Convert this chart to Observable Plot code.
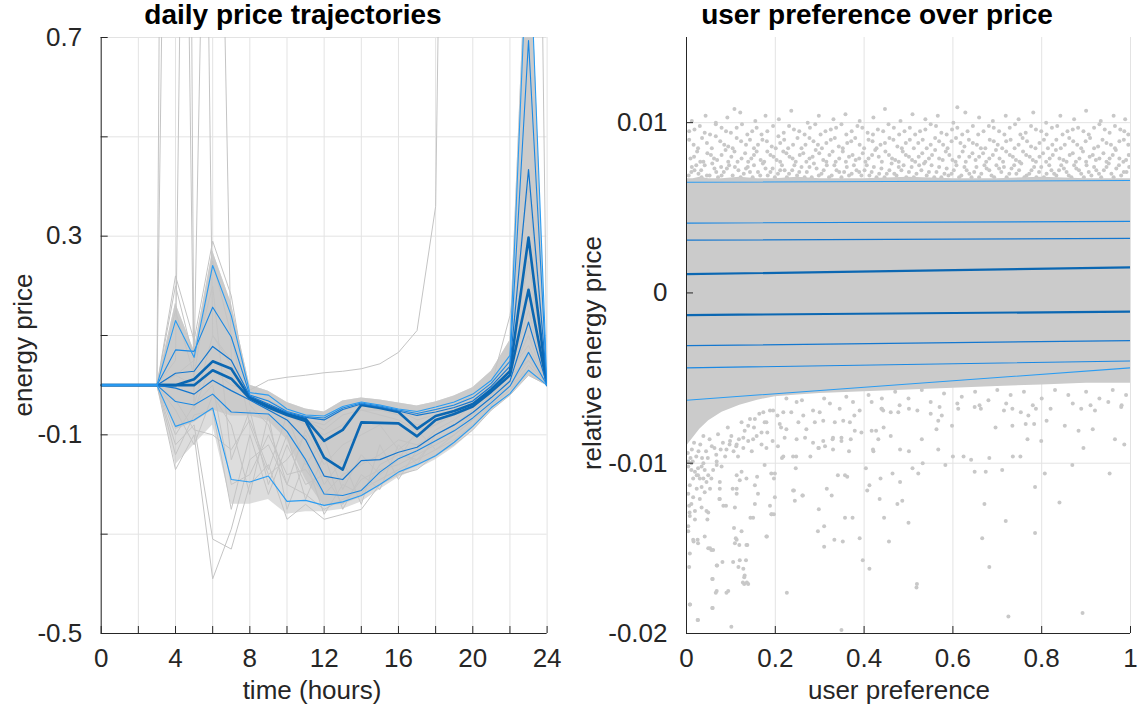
<!DOCTYPE html>
<html><head><meta charset="utf-8">
<script src="https://cdn.jsdelivr.net/npm/d3@7"></script>
<script src="https://cdn.jsdelivr.net/npm/@observablehq/plot@0.6"></script>
<style>
body{margin:0;background:#fff;font-family:"Liberation Sans",Arial,Helvetica,sans-serif;}
#wrap{position:relative;width:1141px;height:711px;overflow:hidden;}
.panel{position:absolute;top:0;}
.title{position:absolute;font-weight:bold;font-size:28px;line-height:28px;color:#000;white-space:nowrap;transform:translateX(-50%);}
.xl{position:absolute;font-size:26px;line-height:26px;color:#262626;white-space:nowrap;transform:translateX(-50%);}
.yl{position:absolute;font-size:26px;line-height:26px;color:#262626;white-space:nowrap;transform:translate(-50%,-50%) rotate(-90deg);}
</style></head><body>
<div id="wrap">
  <div id="left" class="panel" style="left:0"></div>
  <div id="right" class="panel" style="left:570px"></div>
  <div class="title" style="left:293px;top:1px">daily price trajectories</div>
  <div class="title" style="left:877px;top:1px">user preference over price</div>
  <div class="xl" style="left:312px;top:677px">time (hours)</div>
  <div class="xl" style="left:899px;top:677px">user preference</div>
  <div class="yl" style="left:23px;top:345px">energy price</div>
  <div class="yl" style="left:592px;top:353px">relative energy price</div>
</div>
<script>
// ---------------- LEFT PANEL DATA ----------------
const hours = [0,1,2,3,4,5,6,7,8,9,10,11,12,13,14,15,16,17,18,19,20,21,22,23,24];
const q1 = [0,0,0,0,0.130,0.056,0.241,0.140,-0.015,-0.020,-0.048,-0.060,-0.062,-0.043,-0.034,-0.040,-0.048,-0.053,-0.044,-0.034,-0.018,0.010,0.060,0.950,0];
const q2 = [0,0,0,0,0.071,0.068,0.157,0.097,-0.020,-0.032,-0.053,-0.063,-0.066,-0.046,-0.036,-0.042,-0.050,-0.057,-0.049,-0.040,-0.025,0.004,0.048,0.694,0];
const q3 = [0,0,0,0,0.024,0.028,0.078,0.050,-0.022,-0.038,-0.055,-0.065,-0.070,-0.049,-0.038,-0.044,-0.052,-0.061,-0.054,-0.045,-0.032,-0.002,0.038,0.434,0];
const q4 = [0,0,0,0,0,0.012,0.048,0.033,-0.025,-0.042,-0.058,-0.068,-0.112,-0.090,-0.040,-0.046,-0.054,-0.088,-0.062,-0.052,-0.038,-0.008,0.028,0.297,0];
const q5 = [0,0,0,0,0,0,0.030,0.013,-0.027,-0.045,-0.060,-0.072,-0.146,-0.170,-0.075,-0.076,-0.077,-0.103,-0.070,-0.058,-0.043,-0.013,0.020,0.192,0];
const q6 = [0,0,0,0,-0.006,-0.018,0.010,-0.011,-0.030,-0.050,-0.070,-0.110,-0.183,-0.190,-0.152,-0.150,-0.135,-0.125,-0.100,-0.080,-0.055,-0.025,0.008,0.127,0];
const q7 = [0,0,0,0,-0.033,-0.040,-0.018,-0.054,-0.056,-0.058,-0.093,-0.150,-0.219,-0.222,-0.212,-0.175,-0.148,-0.132,-0.112,-0.092,-0.066,-0.035,-0.002,0.066,0];
const q8 = [0,0,0,0,-0.083,-0.070,-0.046,-0.190,-0.195,-0.183,-0.234,-0.232,-0.242,-0.235,-0.222,-0.200,-0.175,-0.160,-0.142,-0.115,-0.083,-0.045,-0.017,0.030,0];
const envHigh = [0,0,0,0,0.165,0.070,0.270,0.165,0.000,-0.012,-0.035,-0.048,-0.054,-0.032,-0.026,-0.030,-0.036,-0.042,-0.034,-0.022,-0.005,0.028,0.090,1.000,0];
const envLow  = [0,0,0,0,-0.090,-0.075,-0.050,-0.062,-0.062,-0.072,-0.110,-0.190,-0.245,-0.240,-0.226,-0.204,-0.180,-0.164,-0.146,-0.120,-0.088,-0.050,-0.020,0.020,0];
const meshLow = [0,0,0,0,-0.160,-0.120,-0.080,-0.240,-0.240,-0.230,-0.260,-0.255,-0.255,-0.250,-0.235,-0.210,-0.186,-0.170,-0.150,-0.125,-0.093,-0.053,-0.022,0.018,0];
const g1  = [0,0,0,0,6.0,-0.05,0.05,0.02,-0.03,-0.05,-0.06,-0.07,-0.09,-0.06,-0.05,-0.05,-0.06,-0.08,-0.07,-0.06,-0.04,-0.01,0.03,0.15,0];
const g2  = [0,0,0,0,2.8,-0.04,0.10,0.05,-0.03,-0.04,-0.06,-0.08,-0.10,-0.08,-0.05,-0.06,-0.07,-0.09,-0.08,-0.06,-0.04,-0.02,0.02,0.10,0];
const g3  = [0,0,0,0,0.05,3.0,0.10,0.04,-0.02,-0.04,-0.05,-0.07,-0.08,-0.05,-0.04,-0.05,-0.05,-0.07,-0.06,-0.05,-0.03,0.0,0.04,0.20,0];
const g4  = [0,0,0,0,0.02,0.05,2.0,0.05,-0.02,-0.03,-0.05,-0.06,-0.07,-0.05,-0.04,-0.04,-0.05,-0.06,-0.05,-0.04,-0.02,0.01,0.05,0.25,0];
const g5  = [0,0,0,0,0.02,0.0,0.03,0.0,-0.01,0.01,0.016,0.02,0.025,0.028,0.033,0.043,0.066,0.11,0.36,3.0,3.0,3.0,3.0,3.0,0];
const g6  = [0,0,0,0,-0.17,-0.10,-0.39,-0.29,-0.15,-0.12,-0.20,-0.22,-0.25,-0.23,-0.21,-0.19,-0.17,-0.15,-0.13,-0.11,-0.08,-0.04,-0.01,0.03,0];
const g7  = [0,0,0,0,-0.12,-0.08,-0.31,-0.33,-0.20,-0.16,-0.27,-0.24,-0.27,-0.26,-0.25,-0.20,-0.18,-0.17,-0.14,-0.12,-0.09,-0.05,-0.02,0.02,0];
const g8  = [0,0,0,0,-0.14,-0.06,-0.05,-0.25,-0.10,-0.22,-0.12,-0.20,-0.18,-0.24,-0.19,-0.17,-0.16,-0.14,-0.12,-0.10,-0.07,-0.04,-0.01,0.04,0];
const g9  = [0,0,0,0,-0.05,-0.12,-0.02,-0.08,-0.22,-0.06,-0.25,-0.15,-0.26,-0.20,-0.22,-0.16,-0.14,-0.15,-0.11,-0.09,-0.06,-0.03,0.0,0.05,0];
const g10 = [0,0,0,0,0.20,0.05,0.20,-0.15,-0.05,-0.20,-0.10,-0.23,-0.14,-0.25,-0.18,-0.21,-0.12,-0.16,-0.10,-0.08,-0.05,-0.02,0.01,0.06,0];
const g11 = [0,0,0,0,0.15,0.02,0.25,0.10,-0.08,-0.18,-0.15,-0.10,-0.20,-0.15,-0.24,-0.12,-0.19,-0.13,-0.09,-0.07,-0.04,-0.01,0.03,0.08,0];
const g12 = [0,0,0,0,-0.10,-0.04,0.0,-0.20,-0.18,-0.10,-0.18,-0.17,-0.22,-0.18,-0.16,-0.14,-0.11,-0.12,-0.10,-0.08,-0.06,-0.02,0.02,0.05,0];
const g13 = [0,0,0,0,0.22,0.09,0.29,0.18,-0.04,-0.08,-0.20,-0.09,-0.16,-0.12,-0.10,-0.08,-0.13,-0.10,-0.08,-0.05,-0.03,0.0,0.14,0.40,0];
const g14 = [0,0,0,0,-0.03,-0.09,-0.10,-0.13,-0.07,-0.17,-0.06,-0.16,-0.11,-0.21,-0.14,-0.18,-0.15,-0.09,-0.13,-0.10,-0.07,-0.03,0.0,0.03,0];
const xGridLeft = [0,2,4,6,8,10,12,14,16,18,20,22,24];
const xLabelsLeft = [0,4,8,12,16,20,24];
const yGridLeft = [-0.5,-0.3,-0.1,0.1,0.3,0.5,0.7];
const yLabelsLeft = [-0.5,-0.1,0.3,0.7];

// ---------------- RIGHT PANEL DATA ----------------
const bandX  = [0,0.015,0.03,0.05,0.08,0.12,0.16,0.2,0.25,0.3,0.4,0.5,0.6,0.7,0.8,0.9,1];
const bandLo = [-0.0090,-0.0085,-0.0080,-0.0075,-0.0070,-0.0066,-0.0063,-0.0061,-0.0060,-0.0059,-0.0058,-0.0057,-0.0056,-0.0055,-0.0054,-0.0053,-0.0053];
const bandHi = [0.0067,0.0067,0.0068,0.0067,0.0067,0.0068,0.0067,0.0067,0.0068,0.0067,0.0067,0.0068,0.0067,0.0067,0.0068,0.0067,0.0067];
const prefEnds = [0,1];
const r1 = [0.0065,0.0066];
const r2 = [0.0041,0.0042];
const r3 = [0.0031,0.0032];
const r4 = [0.0011,0.0015];
const r5 = [-0.0013,-0.0011];
const r6 = [-0.0031,-0.0028];
const r7 = [-0.0044,-0.0040];
const r8 = [-0.0063,-0.0044];
const upperDots = [
[0.005,0.0069],[0.018,0.0072],[0.027,0.0070],[0.041,0.0075],[0.052,0.0069],[0.063,0.0073],[0.071,0.0068],[0.084,0.0071],[0.096,0.0075],[0.104,0.0069],[0.117,0.0072],[0.129,0.0070],[0.138,0.0074],[0.149,0.0068],[0.161,0.0071],[0.172,0.0076],[0.183,0.0069],[0.194,0.0073],[0.206,0.0070],[0.215,0.0075],[0.226,0.0068],[0.238,0.0072],[0.249,0.0069],[0.259,0.0074],[0.271,0.0071],[0.282,0.0068],[0.293,0.0073],[0.304,0.0070],[0.316,0.0075],[0.327,0.0069],[0.338,0.0072],[0.349,0.0068],[0.361,0.0074],[0.372,0.0070],[0.383,0.0072],[0.394,0.0069],[0.406,0.0075],[0.417,0.0071],[0.428,0.0068],[0.439,0.0073],[0.451,0.0070],[0.462,0.0076],[0.473,0.0069],[0.484,0.0072],[0.495,0.0068],[0.507,0.0074],[0.518,0.0070],[0.529,0.0072],[0.541,0.0069],[0.552,0.0075],[0.563,0.0071],[0.574,0.0068],[0.586,0.0073],[0.597,0.0070],[0.608,0.0075],[0.619,0.0069],[0.631,0.0072],[0.642,0.0068],[0.653,0.0074],[0.664,0.0070],[0.676,0.0073],[0.687,0.0069],[0.698,0.0075],[0.709,0.0071],[0.721,0.0068],[0.732,0.0073],[0.743,0.0070],[0.754,0.0076],[0.766,0.0069],[0.777,0.0072],[0.788,0.0068],[0.799,0.0074],[0.811,0.0070],[0.822,0.0072],[0.833,0.0069],[0.844,0.0075],[0.856,0.0071],[0.867,0.0068],[0.878,0.0073],[0.889,0.0070],[0.901,0.0075],[0.912,0.0069],[0.923,0.0072],[0.934,0.0068],[0.946,0.0074],[0.957,0.0070],[0.968,0.0073],[0.979,0.0069],[0.991,0.0071],[0.012,0.0074],[0.034,0.0068],[0.078,0.0074],[0.143,0.0071],[0.221,0.0072],[0.287,0.0076],[0.355,0.0071],[0.412,0.0069],[0.478,0.0074],[0.535,0.0076],[0.590,0.0069],[0.648,0.0071],[0.715,0.0074],[0.772,0.0070],[0.839,0.0072],[0.895,0.0068],[0.951,0.0076],[0.997,0.0074],
[0.009,0.0079],[0.024,0.0083],[0.038,0.0077],[0.055,0.0081],[0.069,0.0078],[0.088,0.0084],[0.101,0.0080],[0.115,0.0077],[0.132,0.0082],[0.146,0.0079],[0.158,0.0083],[0.175,0.0077],[0.189,0.0081],[0.203,0.0078],[0.218,0.0083],[0.232,0.0080],[0.246,0.0077],[0.263,0.0082],[0.277,0.0079],[0.291,0.0084],[0.308,0.0078],[0.322,0.0081],[0.336,0.0077],[0.352,0.0083],[0.366,0.0080],[0.381,0.0078],[0.397,0.0082],[0.410,0.0079],[0.425,0.0084],[0.440,0.0077],[0.456,0.0081],[0.470,0.0078],[0.487,0.0083],[0.501,0.0080],[0.515,0.0077],[0.531,0.0082],[0.546,0.0079],[0.560,0.0084],[0.577,0.0078],[0.592,0.0081],[0.606,0.0077],[0.622,0.0083],[0.637,0.0080],[0.651,0.0078],[0.668,0.0082],[0.682,0.0079],[0.697,0.0084],[0.713,0.0077],[0.728,0.0081],[0.742,0.0078],[0.758,0.0083],[0.773,0.0080],[0.787,0.0077],[0.803,0.0082],[0.818,0.0079],[0.832,0.0084],[0.849,0.0078],[0.863,0.0081],[0.877,0.0077],[0.893,0.0083],[0.908,0.0080],[0.922,0.0078],[0.939,0.0082],[0.953,0.0079],[0.967,0.0084],[0.984,0.0077],[0.996,0.0081],
[0.016,0.0087],[0.035,0.0091],[0.057,0.0085],[0.076,0.0089],[0.094,0.0086],[0.113,0.0091],[0.134,0.0087],[0.152,0.0085],[0.171,0.0090],[0.192,0.0086],[0.211,0.0088],[0.229,0.0085],[0.250,0.0091],[0.268,0.0087],[0.286,0.0089],[0.305,0.0085],[0.325,0.0090],[0.343,0.0086],[0.362,0.0088],[0.380,0.0091],[0.400,0.0085],[0.419,0.0089],[0.437,0.0087],[0.457,0.0091],[0.475,0.0086],[0.494,0.0088],[0.512,0.0085],[0.532,0.0090],[0.550,0.0087],[0.569,0.0089],[0.588,0.0085],[0.607,0.0091],[0.626,0.0086],[0.645,0.0088],[0.663,0.0085],[0.683,0.0090],[0.701,0.0087],[0.720,0.0089],[0.739,0.0085],[0.757,0.0091],[0.776,0.0086],[0.795,0.0088],[0.814,0.0085],[0.833,0.0090],[0.852,0.0087],[0.871,0.0089],[0.889,0.0085],[0.909,0.0091],[0.927,0.0086],[0.946,0.0088],[0.965,0.0085],[0.985,0.0090],
[0.006,0.0095],[0.030,0.0098],[0.053,0.0093],[0.079,0.0097],[0.100,0.0094],[0.125,0.0099],[0.148,0.0095],[0.169,0.0093],[0.195,0.0098],[0.219,0.0094],[0.242,0.0096],[0.266,0.0093],[0.290,0.0099],[0.313,0.0095],[0.337,0.0097],[0.360,0.0093],[0.385,0.0098],[0.408,0.0094],[0.431,0.0096],[0.455,0.0099],[0.479,0.0093],[0.503,0.0097],[0.526,0.0095],[0.550,0.0099],[0.574,0.0094],[0.598,0.0096],[0.621,0.0093],[0.645,0.0098],[0.669,0.0095],[0.692,0.0097],[0.716,0.0093],[0.740,0.0099],[0.764,0.0094],[0.787,0.0096],[0.811,0.0093],[0.835,0.0098],[0.858,0.0095],[0.882,0.0097],[0.906,0.0093],[0.930,0.0099],[0.953,0.0094],[0.977,0.0096],[0.995,0.0093],
[0.012,0.0101],[0.043,0.0104],[0.066,0.0100],[0.092,0.0103],[0.121,0.0106],[0.155,0.0101],[0.178,0.0104],[0.208,0.0102],[0.236,0.0107],[0.273,0.0100],[0.298,0.0104],[0.331,0.0102],[0.358,0.0105],[0.390,0.0101],[0.421,0.0103],[0.447,0.0108],[0.482,0.0101],[0.509,0.0105],[0.538,0.0102],[0.566,0.0104],[0.601,0.0100],[0.628,0.0106],[0.659,0.0103],[0.690,0.0101],[0.719,0.0104],[0.748,0.0102],[0.781,0.0106],[0.810,0.0100],[0.842,0.0104],[0.873,0.0102],[0.900,0.0107],[0.933,0.0101],[0.962,0.0104],[0.988,0.0102],[0.108,0.0108],[0.610,0.0109]
];
const upperDots2 = [
[0.011,0.0071],[0.022,0.0075],[0.033,0.0072],[0.046,0.0069],[0.058,0.0076],[0.067,0.0071],[0.079,0.0069],[0.091,0.0073],[0.109,0.0074],[0.122,0.0068],[0.134,0.0073],[0.152,0.0075],[0.166,0.0069],[0.178,0.0073],[0.189,0.0071],[0.199,0.0068],[0.211,0.0072],[0.231,0.0070],[0.243,0.0075],[0.254,0.0071],[0.266,0.0068],[0.277,0.0074],[0.298,0.0069],[0.309,0.0072],[0.321,0.0068],[0.333,0.0075],[0.344,0.0071],[0.366,0.0069],[0.377,0.0075],[0.389,0.0071],[0.401,0.0072],[0.422,0.0074],[0.434,0.0070],[0.446,0.0068],[0.457,0.0072],[0.468,0.0070],[0.489,0.0075],[0.501,0.0071],[0.512,0.0068],[0.524,0.0075],[0.546,0.0071],[0.558,0.0068],[0.569,0.0074],[0.581,0.0070],[0.602,0.0072],[0.614,0.0068],[0.626,0.0074],[0.637,0.0070],[0.659,0.0068],[0.671,0.0075],[0.682,0.0072],[0.693,0.0068],[0.704,0.0073],[0.727,0.0070],[0.738,0.0075],[0.749,0.0072],[0.761,0.0068],[0.783,0.0074],[0.794,0.0071],[0.805,0.0068],[0.817,0.0075],[0.828,0.0070],[0.850,0.0073],[0.861,0.0069],[0.873,0.0075],[0.884,0.0072],[0.906,0.0071],[0.918,0.0074],[0.929,0.0070],[0.940,0.0072],[0.962,0.0068],[0.974,0.0075],[0.985,0.0071],
[0.017,0.0080],[0.031,0.0077],[0.047,0.0082],[0.062,0.0079],[0.079,0.0081],[0.094,0.0077],[0.108,0.0083],[0.124,0.0079],[0.139,0.0077],[0.152,0.0081],[0.167,0.0078],[0.182,0.0083],[0.196,0.0080],[0.211,0.0077],[0.225,0.0082],[0.239,0.0079],[0.255,0.0081],[0.270,0.0077],[0.284,0.0080],[0.299,0.0082],[0.315,0.0077],[0.329,0.0083],[0.344,0.0079],[0.359,0.0077],[0.374,0.0081],[0.389,0.0079],[0.403,0.0077],[0.418,0.0081],[0.433,0.0080],[0.448,0.0083],[0.463,0.0079],[0.478,0.0077],[0.494,0.0081],[0.508,0.0078],[0.523,0.0080],[0.538,0.0077],[0.553,0.0081],[0.569,0.0079],[0.584,0.0083],[0.599,0.0078],[0.614,0.0080],[0.629,0.0077],[0.644,0.0082],[0.659,0.0080],[0.675,0.0077],[0.690,0.0081],[0.705,0.0079],[0.720,0.0083],[0.735,0.0080],[0.750,0.0077],[0.765,0.0081],[0.780,0.0078],[0.795,0.0080],[0.810,0.0077],[0.825,0.0081],[0.840,0.0079],[0.856,0.0077],[0.870,0.0082],[0.885,0.0079],[0.900,0.0077],[0.915,0.0081],[0.930,0.0079],[0.946,0.0077],[0.960,0.0081],[0.975,0.0079],[0.990,0.0078],
[0.006,0.0090],[0.026,0.0085],[0.046,0.0088],[0.066,0.0092],[0.085,0.0087],[0.104,0.0085],[0.123,0.0089],[0.143,0.0090],[0.161,0.0087],[0.181,0.0089],[0.201,0.0085],[0.220,0.0090],[0.240,0.0087],[0.259,0.0085],[0.277,0.0091],[0.296,0.0087],[0.315,0.0088],[0.334,0.0091],[0.352,0.0085],[0.371,0.0089],[0.390,0.0087],[0.410,0.0090],[0.428,0.0085],[0.447,0.0088],[0.466,0.0090],[0.485,0.0085],[0.503,0.0090],[0.522,0.0088],[0.541,0.0085],[0.560,0.0091],[0.578,0.0087],[0.597,0.0089],[0.617,0.0088],[0.636,0.0090],[0.654,0.0087],[0.673,0.0085],[0.692,0.0089],[0.711,0.0085],[0.730,0.0090],[0.748,0.0087],[0.767,0.0089],[0.786,0.0085],[0.805,0.0090],[0.824,0.0087],[0.843,0.0085],[0.862,0.0091],[0.880,0.0087],[0.899,0.0089],[0.918,0.0085],[0.937,0.0090],[0.956,0.0087],[0.975,0.0089],[0.995,0.0087],
[0.018,0.0096],[0.041,0.0094],[0.066,0.0099],[0.089,0.0095],[0.113,0.0097],[0.137,0.0093],[0.158,0.0097],[0.182,0.0095],[0.207,0.0092],[0.231,0.0098],[0.254,0.0095],[0.278,0.0097],[0.302,0.0093],[0.325,0.0096],[0.349,0.0099],[0.372,0.0095],[0.396,0.0097],[0.420,0.0093],[0.443,0.0095],[0.467,0.0097],[0.491,0.0095],[0.515,0.0093],[0.538,0.0096],[0.562,0.0098],[0.586,0.0093],[0.610,0.0097],[0.633,0.0095],[0.657,0.0093],[0.681,0.0098],[0.704,0.0095],[0.728,0.0097],[0.752,0.0093],[0.776,0.0098],[0.799,0.0095],[0.823,0.0097],[0.847,0.0093],[0.870,0.0096],[0.894,0.0095],[0.918,0.0097],[0.942,0.0096],[0.965,0.0098],[0.986,0.0095]
];
const lowerFarDots = [
[0.649,-0.0067],[0.663,-0.0068],[0.715,-0.0069],[0.734,-0.0068],[0.753,-0.0070],[0.787,-0.0068],[0.811,-0.0075],[0.852,-0.0078],[0.883,-0.0081],[0.915,-0.0080],[0.965,-0.0086],[0.986,-0.0089],[0.979,-0.0067],[0.889,-0.0068],[0.920,-0.0069],
[0.612,-0.0068],[0.598,-0.0078],[0.575,-0.0072],[0.567,-0.0075],[0.563,-0.0080],[0.530,-0.0086],[0.567,-0.0092],[0.583,-0.0101],[0.600,-0.0096],[0.624,-0.0096],[0.641,-0.0098],[0.649,-0.0105],[0.674,-0.0105],[0.711,-0.0104],[0.682,-0.0097],[0.735,-0.0096],[0.752,-0.0096],[0.696,-0.0079],[0.734,-0.0078],[0.768,-0.0086],[0.799,-0.0087],[0.783,-0.0077],[0.764,-0.0077],[0.807,-0.0106],[0.785,-0.0114],[0.785,-0.0141],[0.840,-0.0123],[0.869,-0.0101],[0.894,-0.0091],[0.953,-0.0106],[0.671,-0.0124],[0.719,-0.0134],[0.682,-0.0161],[0.666,-0.0144],[0.725,-0.0190],[0.892,-0.0188],
[0.501,-0.0068],[0.477,-0.0070],[0.440,-0.0068],[0.460,-0.0070],[0.427,-0.0081],[0.460,-0.0084],[0.481,-0.0092],[0.501,-0.0093],[0.509,-0.0103],[0.532,-0.0100],[0.522,-0.0106],[0.464,-0.0106],[0.481,-0.0111],[0.486,-0.0122],[0.475,-0.0124],[0.445,-0.0132],[0.456,-0.0146],[0.500,-0.0135],[0.435,-0.0121],[0.437,-0.0109],[0.412,-0.0113],[0.404,-0.0103],[0.407,-0.0116],[0.421,-0.0093],[0.444,-0.0079],[0.394,-0.0082],[0.378,-0.0072],[0.370,-0.0086],[0.349,-0.0085],[0.329,-0.0086],[0.366,-0.0093],[0.330,-0.0092],[0.312,-0.0090],[0.298,-0.0091],[0.279,-0.0096],[0.247,-0.0096],[0.215,-0.0097],[0.357,-0.0107],[0.341,-0.0107],[0.362,-0.0108],[0.327,-0.0119],[0.316,-0.0115],[0.298,-0.0127],[0.310,-0.0137],[0.296,-0.0140],[0.310,-0.0149],[0.333,-0.0145],[0.352,-0.0146],[0.357,-0.0132],[0.374,-0.0132],[0.390,-0.0144],[0.397,-0.0157],[0.412,-0.0162],[0.349,-0.0198],[0.519,-0.0171],[0.518,-0.0173],[0.226,-0.0176],[0.262,-0.0119],[0.242,-0.0116],[0.197,-0.0130],[0.191,-0.0106],[0.197,-0.0109],
[0.47,-0.0058],[0.50,-0.0062],[0.53,-0.0057],[0.55,-0.0064],[0.58,-0.0059],[0.62,-0.0061],[0.65,-0.0058],[0.68,-0.0063],[0.70,-0.0057],[0.73,-0.0060],[0.76,-0.0058],[0.80,-0.0062],[0.83,-0.0057],[0.86,-0.0060],[0.90,-0.0058],[0.93,-0.0062],[0.96,-0.0057],[0.99,-0.0060],[0.48,-0.0066],[0.52,-0.0069],[0.57,-0.0067],[0.61,-0.0065],[0.66,-0.0066],[0.72,-0.0065],[0.78,-0.0066],[0.82,-0.0068],[0.87,-0.0065],[0.91,-0.0066],[0.95,-0.0064],[0.98,-0.0066],[0.55,-0.0071],[0.77,-0.0072],[0.26,-0.0063],[0.31,-0.0062],[0.36,-0.0061],[0.41,-0.0060],[0.44,-0.0062]
];
const lowerNearDots = [
[0.101,-0.0196],[0.025,-0.0192],[0.008,-0.0183],[0.058,-0.0185],[0.066,-0.0176],[0.090,-0.0176],[0.058,-0.0168],[0.127,-0.0170],[0.130,-0.0167],[0.117,-0.0161],[0.068,-0.0160],[0.081,-0.0158],[0.056,-0.0151],[0.049,-0.0150],[0.016,-0.0146],[0.025,-0.0145],[0.041,-0.0143],[0.004,-0.0140],[0.019,-0.0133],[0.007,-0.0129],[0.049,-0.0129],[0.074,-0.0121],[0.107,-0.0138],[0.111,-0.0144],[0.119,-0.0148],[0.137,-0.0148],[0.136,-0.0170],[0.181,-0.0143],[0.192,-0.0130],
[0.0075,-0.0183],[0.026,-0.0192],[0.059,-0.0185],[0.068,-0.0175],[0.094,-0.0175],[0.059,-0.0168],[0.130,-0.0171],[0.139,-0.0171],[0.131,-0.0166],[0.128,-0.0162],[0.120,-0.0157],[0.105,-0.0158],[0.069,-0.0160],[0.134,-0.0157],[0.006,-0.0161],[0.0075,-0.0153],[0.053,-0.0150],[0.060,-0.0151],[0.026,-0.0147],[0.015,-0.0145],[0.113,-0.0145],[0.109,-0.0147],[0.124,-0.0140],[0.135,-0.0148],[0.180,-0.0143],[0.150,-0.0132],[0.144,-0.0132],[0.191,-0.0130],[0.199,-0.0120],[0.188,-0.0125],[0.154,-0.0124],[0.109,-0.0126],[0.089,-0.0125],[0.083,-0.0125],[0.075,-0.0121],[0.047,-0.0133],[0.004,-0.0137],[0.034,-0.0126],[0.011,-0.0124],[0.075,-0.0115],[0.075,-0.0111],[0.104,-0.0115],[0.113,-0.0115],[0.113,-0.0118],[0.161,-0.0118],[0.154,-0.0113],[0.159,-0.0108],[0.135,-0.0109],[0.120,-0.0110],[0.113,-0.0107],[0.124,-0.0105],[0.079,-0.0102],[0.068,-0.0101],[0.199,-0.0106],[0.240,-0.0116],[0.261,-0.0119],[0.246,-0.0103],[0.244,-0.0122],[0.176,-0.0101],
[0.004,-0.0102],[0.011,-0.0104],[0.019,-0.0105],[0.026,-0.0103],[0.034,-0.0102],[0.041,-0.0104],[0.023,-0.0107],[0.030,-0.0109],[0.015,-0.0109],[0.038,-0.0109],[0.045,-0.0111],[0.0075,-0.0113],[0.023,-0.0115],[0.034,-0.0114],[0.041,-0.0117],[0.004,-0.0118],[0.015,-0.0120],[0.030,-0.0121],[0.006,-0.0125],[0.019,-0.0128],[0.045,-0.0128],[0.0075,-0.0131],[0.026,-0.0107],[0.049,-0.0107],[0.056,-0.0109],[0.060,-0.0104],[0.053,-0.0115],[0.011,-0.0100],[0.038,-0.0100],[0.068,-0.0099],
[0.003,-0.0094],[0.012,-0.0092],[0.022,-0.0096],[0.031,-0.0089],[0.044,-0.0093],[0.052,-0.0086],[0.063,-0.0091],[0.071,-0.0083],[0.082,-0.0088],[0.093,-0.0079],[0.101,-0.0084],[0.112,-0.0090],[0.124,-0.0076],[0.131,-0.0081],[0.143,-0.0074],[0.152,-0.0079],[0.164,-0.0071],[0.176,-0.0076],[0.188,-0.0069],[0.009,-0.0097],[0.017,-0.0088],[0.027,-0.0093],[0.038,-0.0084],[0.048,-0.0097],[0.057,-0.0090],[0.067,-0.0095],[0.077,-0.0092],[0.087,-0.0096],[0.097,-0.0089],[0.106,-0.0093],[0.118,-0.0086],[0.128,-0.0091],[0.139,-0.0087],[0.147,-0.0093],[0.158,-0.0084],[0.169,-0.0089],[0.182,-0.0082],[0.194,-0.0087],[0.205,-0.0072],[0.213,-0.0079],[0.004,-0.0099],[0.014,-0.0099],[0.035,-0.0097],
[0.225,-0.0062],[0.248,-0.0064],[0.195,-0.0069],[0.218,-0.0070],[0.236,-0.0070],[0.263,-0.0072],[0.285,-0.0069],[0.300,-0.0070],[0.323,-0.0065],[0.345,-0.0068],[0.375,-0.0064],[0.390,-0.0069],[0.417,-0.0064],[0.439,-0.0068],[0.180,-0.0076],[0.210,-0.0077],[0.225,-0.0080],[0.252,-0.0076],[0.270,-0.0080],[0.289,-0.0076],[0.308,-0.0075],[0.334,-0.0076],[0.353,-0.0075],[0.368,-0.0076],[0.379,-0.0081],[0.349,-0.0087],[0.330,-0.0085],[0.308,-0.0087],[0.285,-0.0088],[0.267,-0.0085],[0.248,-0.0086],[0.221,-0.0085],[0.206,-0.0090],[0.180,-0.0091],[0.218,-0.0096],[0.240,-0.0096],[0.297,-0.0091],[0.417,-0.0081],[0.432,-0.0086],[0.420,-0.0092],[0.443,-0.0069],[0.169,-0.0082],[0.150,-0.0086],[0.128,-0.0085],[0.113,-0.0089],[0.098,-0.0087],[0.090,-0.0092],[0.116,-0.0096],[0.139,-0.0078],[0.154,-0.0074],[0.173,-0.0070]
];
const xGridRight = [0,0.2,0.4,0.6,0.8,1];
const yGridRight = [-0.02,-0.01,0,0.01];

// ---------------- STYLES ----------------
const AX = "#262626", GRID = "#e3e3e3", GRAY = "#cbcbcb", DOT = "#c8c8c8";
const thin = "#2a9cf2", mid = "#1a88e3", med = "#1477cf", dark = "#0b67b2";
const blueStyles = [
  {c: dark, w: 2.6}, {c: dark, w: 2.6},
  {c: med, w: 1.2}, {c: med, w: 1.2},
  {c: mid, w: 1.1}, {c: mid, w: 1.1},
  {c: thin, w: 1.1}, {c: thin, w: 1.1}
];
const font = '"Liberation Sans", Arial, Helvetica, sans-serif';

// ---------------- LEFT PLOT ----------------
const leftQs = [q4, q5, q3, q6, q2, q7, q1, q8];
const envRows = hours.map((h, i) => ({h, hi: envHigh[i], lo: envLow[i], mesh: meshLow[i]}));
const grays = [g1,g2,g3,g4,g5,g6,g7,g8,g9,g10,g11,g12,g13,g14];
const grayRows = grays.flatMap((g, k) => hours.map((h, i) => ({h, v: g[i], id: k})));

const leftPlot = Plot.plot({
  width: 570, height: 711,
  marginLeft: 100.7, marginRight: 23.4, marginTop: 37, marginBottom: 78,
  style: {fontFamily: font, fontSize: "26px", color: AX, background: "transparent", overflow: "visible"},
  x: {domain: [0, 24], label: null},
  y: {domain: [-0.5, 0.7], label: null},
  marks: [
    Plot.gridX(xGridLeft, {stroke: GRID, strokeOpacity: 1}),
    Plot.gridY(yGridLeft, {stroke: GRID, strokeOpacity: 1}),
    Plot.areaY(envRows, {x: "h", y1: "mesh", y2: "hi", fill: GRAY, fillOpacity: 0.65, clip: true}),
    Plot.areaY(envRows, {x: "h", y1: "lo", y2: "hi", fill: GRAY, clip: true}),
    Plot.line(grayRows, {x: "h", y: "v", z: "id", stroke: "#c4c4c4", strokeWidth: 1, clip: true}),
    ...leftQs.map((q, k) => Plot.line(hours.map((h, i) => ({h, v: q[i]})),
      {x: "h", y: "v", stroke: blueStyles[k].c, strokeWidth: blueStyles[k].w, clip: true})),
    Plot.ruleX([0], {stroke: AX, strokeWidth: 1}),
    Plot.ruleY([-0.5], {stroke: AX, strokeWidth: 1}),
    Plot.axisX(xGridLeft, {anchor: "bottom", tickSize: -7, tickPadding: 22, stroke: AX, fill: AX, fontSize: 26, label: null,
      tickFormat: d => xLabelsLeft.includes(d) ? String(d) : ""}),
    Plot.axisY(yGridLeft, {anchor: "left", tickSize: -7, tickPadding: 26, stroke: AX, fill: AX, fontSize: 26, label: null,
      tickFormat: d => yLabelsLeft.includes(d) ? String(d) : ""})
  ]
});

// ---------------- RIGHT PLOT ----------------
const bandRows = bandX.map((x, i) => ({x, lo: bandLo[i], hi: bandHi[i]}));
const rightQs = [r4, r5, r3, r6, r2, r7, r1, r8];
const allDots = upperDots.concat(upperDots2, lowerFarDots, lowerNearDots).map(([x, y]) => ({x, y}));

const rightPlot = Plot.plot({
  width: 571, height: 711,
  marginLeft: 116, marginRight: 11, marginTop: 37, marginBottom: 78,
  style: {fontFamily: font, fontSize: "26px", color: AX, background: "transparent", overflow: "visible"},
  x: {domain: [0, 1], label: null},
  y: {domain: [-0.02, 0.015], label: null},
  marks: [
    Plot.gridX(xGridRight, {stroke: GRID, strokeOpacity: 1}),
    Plot.gridY(yGridRight, {stroke: GRID, strokeOpacity: 1}),
    Plot.dot(allDots, {x: "x", y: "y", r: 2, fill: DOT, stroke: "none", clip: true}),
    Plot.areaY(bandRows, {x: "x", y1: "lo", y2: "hi", fill: GRAY, clip: true}),
    ...rightQs.map((q, k) => Plot.line(prefEnds.map((x, i) => ({x, v: q[i]})),
      {x: "x", y: "v", stroke: blueStyles[k].c, strokeWidth: Math.min(blueStyles[k].w, 2.2), clip: true})),
    Plot.ruleX([0], {stroke: AX, strokeWidth: 1}),
    Plot.ruleY([-0.02], {stroke: AX, strokeWidth: 1}),
    Plot.axisX(xGridRight, {anchor: "bottom", tickSize: -7, tickPadding: 22, stroke: AX, fill: AX, fontSize: 26, label: null,
      tickFormat: d => String(d)}),
    Plot.axisY(yGridRight, {anchor: "left", tickSize: -7, tickPadding: 26, stroke: AX, fill: AX, fontSize: 26, label: null,
      tickFormat: d => String(d)})
  ]
});

// clip lines/areas/dots to the frame (in case the clip option is unavailable)
function clipToFrame(svg, plot, id) {
  const xr = plot.scale("x").range, yr = plot.scale("y").range;
  const ns = "http://www.w3.org/2000/svg";
  const defs = document.createElementNS(ns, "defs");
  const cp = document.createElementNS(ns, "clipPath");
  cp.setAttribute("id", id);
  const r = document.createElementNS(ns, "rect");
  r.setAttribute("x", Math.min(...xr)); r.setAttribute("y", Math.min(...yr));
  r.setAttribute("width", Math.abs(xr[1] - xr[0])); r.setAttribute("height", Math.abs(yr[1] - yr[0]));
  cp.appendChild(r); defs.appendChild(cp); svg.insertBefore(defs, svg.firstChild);
  svg.querySelectorAll('g[aria-label="line"], g[aria-label="area"], g[aria-label="dot"]').forEach(g => g.setAttribute("clip-path", `url(#${id})`));
}
document.getElementById("left").appendChild(leftPlot);
document.getElementById("right").appendChild(rightPlot);
clipToFrame(leftPlot, leftPlot, "clipL");
clipToFrame(rightPlot, rightPlot, "clipR");
</script>
</body></html>
